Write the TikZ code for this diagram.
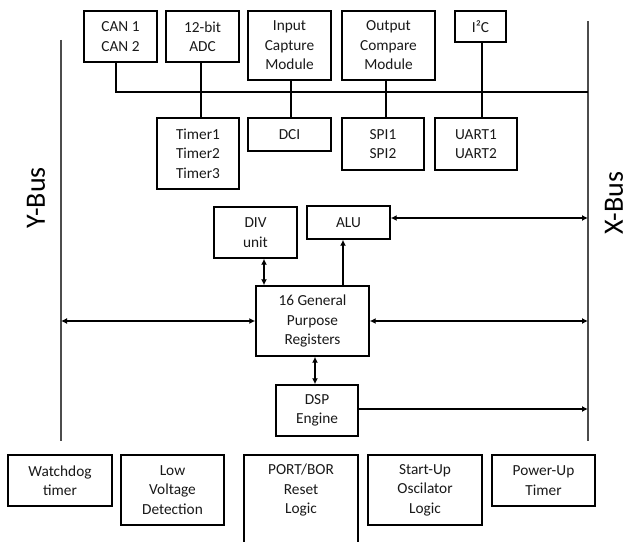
\documentclass[tikz,border=0pt]{standalone}
\usepackage{fontspec}
\setmainfont{Carlito}
\usetikzlibrary{arrows.meta,calc}
\newdimen\pxu \pxu=0.75pt
\tikzset{
  box/.style={draw=black, line width=1.1pt, align=center, inner sep=0pt,
    font=\fontsize{11.5}{14.6}\selectfont, text=black!90},
  conn/.style={draw=black, line width=1.1pt},
  arr/.style={conn, -{Latex[length=4.5pt,width=4.5pt]}},
  darr/.style={conn, {Latex[length=4.5pt,width=4.5pt]}-{Latex[length=4.5pt,width=4.5pt]}},
  busline/.style={draw=black!70, line width=1.3pt},
  buslabel/.style={font=\fontsize{21}{24}\selectfont, rotate=90, text=black, inner sep=0pt}
}
\newcommand\bx[6]{\node[box, minimum width={(#4-#2)*\pxu}, minimum height={(#5-#3)*\pxu}] (#1) at ({(#2+#4)/2},{(#3+#5)/2}) {#6};}
\begin{document}
\begin{tikzpicture}[x=0.75pt,y=-0.75pt]
\useasboundingbox (0,0) rectangle (629,542);
\fill[white] (0,0) rectangle (629,542);
% buses
\coordinate (ybt) at (61,40);
\coordinate (ybb) at (61,441);
\coordinate (xbt) at (588,21);
\coordinate (xbb) at (588,441);
\coordinate (pgbot) at (0,542);
\draw[busline] (ybt) -- (ybb);
\draw[busline] (xbt) -- (xbb);
\node[buslabel] (ylab) at (36,198) {Y-Bus};
\node[buslabel] (xlab) at (614,203) {X-Bus};
% top peripherals
\bx{CAN}{84}{11}{157}{62}{CAN 1\\CAN 2}
\bx{ADC}{166}{11}{239}{62}{12-bit\\ADC}
\bx{IC}{248}{11}{331}{80}{Input\\Capture\\Module}
\bx{OC}{342}{11}{435}{80}{Output\\Compare\\Module}
\bx{IIC}{455}{11}{506}{42}{I²C}
\bx{TMR}{157}{118}{239}{189}{Timer1\\Timer2\\Timer3}
\bx{DCI}{248}{118}{331}{151}{DCI}
\bx{SPI}{342}{118}{424}{170}{SPI1\\SPI2}
\bx{UART}{435}{118}{517}{170}{UART1\\UART2}
% peripheral bus
\coordinate (pbl) at (116,92);
\coordinate (canb) at (116,62);
\draw[conn] (canb) -- (pbl) -- (pbl -| xbt);
\draw[conn] ($(ADC.south)+(-1.5,0)$) -- ($(ADC.south |- TMR.north)+(-1.5,0)$);
\draw[conn] ($(IC.south)+(1.5,0)$) -- ($(IC.south |- DCI.north)+(1.5,0)$);
\draw[conn] ($(OC.south)+(-2.5,0)$) -- ($(OC.south |- SPI.north)+(-2.5,0)$);
\draw[conn] ($(IIC.south)+(1.5,0)$) -- ($(IIC.south |- UART.north)+(1.5,0)$);
% core
\bx{DIV}{214}{207}{297}{258}{DIV\\unit}
\bx{ALU}{307}{206}{390}{239}{ALU}
\bx{GPR}{256}{286}{369}{356}{16 General\\Purpose\\Registers}
\bx{DSP}{276}{385}{358}{436}{DSP\\Engine}
\draw[darr] ($(ALU.east)+(0,-4.5)$) -- ($(ALU.east -| xbt)+(0,-4.5)$);
\draw[darr] ($(DIV.south)+(8.5,0)$) -- ($(DIV.south |- GPR.north)+(8.5,0)$);
\draw[arr] ($(GPR.north)+(30.5,0)$) -- ($(GPR.north |- ALU.south)+(30.5,0)$);
\draw[darr] (GPR.west) -- (GPR.west -| ybt);
\draw[darr] (GPR.east) -- (GPR.east -| xbt);
\draw[darr] ($(GPR.south)+(2.5,0)$) -- ($(GPR.south |- DSP.north)+(2.5,0)$);
\draw[arr] ($(DSP.east)+(0,-1.5)$) -- ($(DSP.east -| xbt)+(0,-1.5)$);
% bottom row
\bx{WD}{8}{455}{112}{506}{Watchdog\\timer}
\bx{LV}{121}{455}{224}{525}{Low\\Voltage\\Detection}
\node[box, draw=none, outer sep=0pt, minimum width={(358-244)*\pxu}, minimum height={(525-455)*\pxu}] (POR) at (301,490) {PORT/BOR\\Reset\\Logic};
\draw[conn] (POR.north west |- pgbot) -- (POR.north west) -- (POR.north east) -- (POR.north east |- pgbot);
\bx{SU}{368}{455}{482}{525}{Start-Up\\Oscilator\\Logic}
\bx{PU}{492}{455}{595}{506}{Power-Up\\Timer}
\end{tikzpicture}
\end{document}
